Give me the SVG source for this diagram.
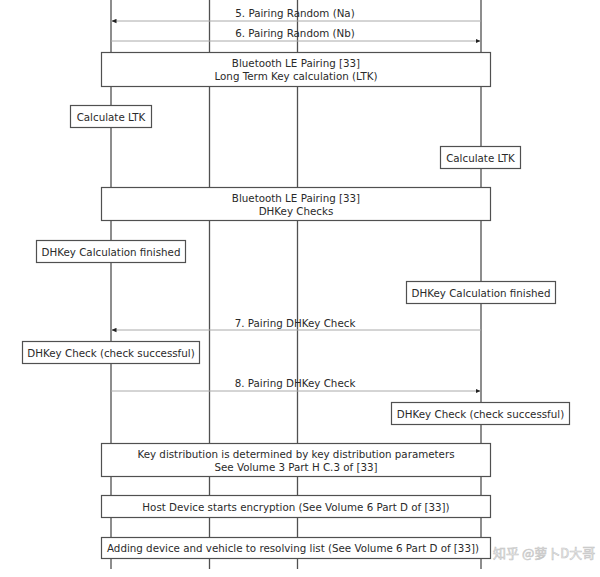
<svg xmlns="http://www.w3.org/2000/svg" width="600" height="577" viewBox="0 0 600 577">
<defs>
<style>
text{font-family:"DejaVu Sans",Verdana,sans-serif;font-size:10.3px;fill:#2a2a2a;text-anchor:middle}
.life{stroke:#505050;stroke-width:1.3;fill:none}
.box rect{fill:#fff;stroke:#505050;stroke-width:1.2}
.msg{stroke:#aaa;stroke-width:1;fill:none}
.wm{font-family:"Noto Sans CJK SC",sans-serif;font-size:13px;fill:#f4f4f4;stroke:#c4c4c4;stroke-width:0.6;text-anchor:start}
</style>
<marker id="ah" viewBox="0 0 5 5" refX="5" refY="2.5" markerWidth="5" markerHeight="5" orient="auto" markerUnits="userSpaceOnUse">
<path d="M0,0.3 L5,2.5 L0,4.7 Z" fill="#222"/>
</marker>
</defs>
<rect width="600" height="577" fill="#fff"/>
<g id="lifelines">
<line class="life" x1="111" y1="0" x2="111" y2="569"/>
<line class="life" x1="209.5" y1="0" x2="209.5" y2="569"/>
<line class="life" x1="297.5" y1="0" x2="297.5" y2="569"/>
<line class="life" x1="481" y1="0" x2="481" y2="569"/>
</g>
<g id="connectors">
<line class="msg" x1="481" y1="21" x2="111.5" y2="21" marker-end="url(#ah)"/>
<text x="295" y="17">5. Pairing Random (Na)</text>
<line class="msg" x1="111" y1="41" x2="480.5" y2="41" marker-end="url(#ah)"/>
<text x="295" y="37">6. Pairing Random (Nb)</text>
<line class="msg" x1="481" y1="330" x2="111.5" y2="330" marker-end="url(#ah)"/>
<text x="295" y="327">7. Pairing DHKey Check</text>
<line class="msg" x1="111" y1="391" x2="480.5" y2="391" marker-end="url(#ah)"/>
<text x="295" y="387">8. Pairing DHKey Check</text>
</g>
<g id="ltk-block" class="box">
<rect x="101.5" y="52.5" width="389" height="34"/>
<text x="296" y="67">Bluetooth LE Pairing [33]</text>
<text x="296" y="80">Long Term Key calculation (LTK)</text>
</g>
<g id="calc-ltk-left" class="box">
<rect x="70.5" y="105.5" width="81" height="22"/>
<text x="111" y="120.5">Calculate LTK</text>
</g>
<g id="calc-ltk-right" class="box">
<rect x="440.5" y="146.5" width="80" height="22"/>
<text x="480.5" y="161.5">Calculate LTK</text>
</g>
<g id="dhkey-block" class="box">
<rect x="101.5" y="187.5" width="389" height="33"/>
<text x="296" y="202">Bluetooth LE Pairing [33]</text>
<text x="296" y="215">DHKey Checks</text>
</g>
<g id="dhkey-finished-left" class="box">
<rect x="36.5" y="240.5" width="149" height="22"/>
<text x="111" y="255.5">DHKey Calculation finished</text>
</g>
<g id="dhkey-finished-right" class="box">
<rect x="406.5" y="281.5" width="149" height="22"/>
<text x="481" y="296.5">DHKey Calculation finished</text>
</g>
<g id="dhkey-check-left" class="box">
<rect x="22.5" y="341.5" width="177" height="22"/>
<text x="111" y="356.5">DHKey Check (check successful)</text>
</g>
<g id="dhkey-check-right" class="box">
<rect x="391.5" y="402.5" width="178" height="22"/>
<text x="480.5" y="417.5">DHKey Check (check successful)</text>
</g>
<g id="key-distribution" class="box">
<rect x="101.5" y="443.5" width="389" height="33"/>
<text x="296" y="458">Key distribution is determined by key distribution parameters</text>
<text x="296" y="471">See Volume 3 Part H C.3 of [33]</text>
</g>
<g id="encryption" class="box">
<rect x="101.5" y="495.5" width="389" height="22"/>
<text x="296" y="510.5">Host Device starts encryption (See Volume 6 Part D of [33])</text>
</g>
<g id="resolving-list" class="box">
<rect x="101.5" y="537.5" width="389" height="21"/>
<text x="293" y="552">Adding device and vehicle to resolving list (See Volume 6 Part D of [33])</text>
</g>
<text class="wm" x="493" y="558">知乎 @萝卜D大哥</text>
</svg>
